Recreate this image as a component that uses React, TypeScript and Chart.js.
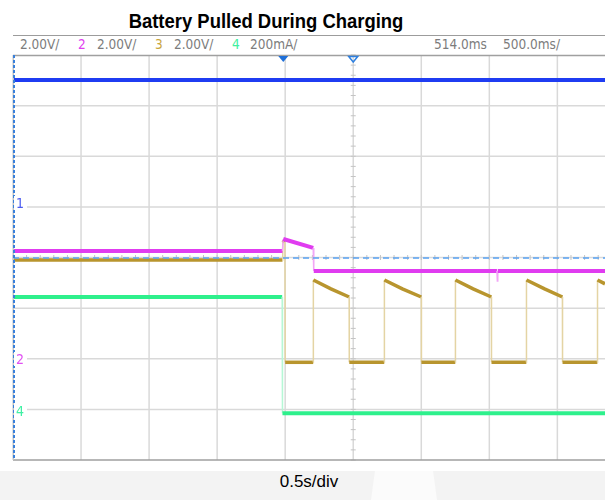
import React, { useEffect, useRef } from "react";
import { Chart, registerables } from "chart.js";

Chart.register(...registerables);

// ---------- text ----------
const TITLE = "Battery Pulled During Charging";
const TIMEBASE_LABEL = "0.5s/div";
const headerTexts = ["2.00V/", "2", "2.00V/", "3", "2.00V/", "4", "200mA/", "514.0ms", "500.0ms/"];
const headerColors = ["#7c7c7c", "#e040f0", "#7c7c7c", "#c9a640", "#7c7c7c", "#3ef0a0", "#7c7c7c", "#7c7c7c", "#7c7c7c"];
const headerLeft = [20, 78, 97, 155, 174, 232, 250, 434, 503];

const channelLabels = ["1", "2", "4"];
const channelLabelColors = ["#4c5cf0", "#e050f2", "#40f0a4"];
const channelLabelTop = [196, 352, 404];

// ---------- timebase (seconds, 0 = trigger) ----------
const timePerDiv = 0.5;
const triggerDelay = 0.514; // time at screen centre
const visibleDivs = 8.7;
const xMin = triggerDelay - 5 * timePerDiv;
const xMax = xMin + visibleDivs * timePerDiv;

// ---------- channel settings (reference level in divisions from centre, units per division) ----------
const ch1Ref = 1.09, ch1Scale = 2; // V/div
const ch2Ref = -2.0, ch2Scale = 2; // V/div
const ch3Ref = -2.07, ch3Scale = 2; // V/div
const ch4Ref = -3.0, ch4Scale = 200; // mA/div

// ---------- data ----------
// CH1: input voltage (V)
const ch1Times = [-1.986, 2.364];
const ch1Volts = [4.83, 4.83];

// CH2: battery node voltage (V)
const ch2Times = [-1.986, -0.006, 0.0, 0.22, 0.224, 1.57, 1.573, 1.576, 2.364];
const ch2Volts = [4.26, 4.26, 4.73, 4.38, 3.47, 3.47, 3.07, 3.47, 3.47];

// CH3: system/charger output voltage (V)
const ch3Times = [
  -1.986, -0.006, -0.004, 0.012, 0.014,
  0.22, 0.221, 0.35, 0.484, 0.485,
  0.742, 0.743, 0.875, 1.014, 1.015,
  1.264, 1.265, 1.395, 1.529, 1.53,
  1.786, 1.787, 1.92, 2.051, 2.052,
  2.308, 2.309, 2.364,
];
const ch3Volts = [
  4.04, 4.04, 4.83, 4.76, 0,
  0, 3.25, 2.9, 2.58, 0,
  0, 3.25, 2.9, 2.58, 0,
  0, 3.25, 2.9, 2.58, 0,
  0, 3.25, 2.9, 2.58, 0,
  0, 3.25, 3.1,
];

// CH4: charge current (mA)
const ch4Times = [-1.986, -0.008, -0.006, 2.364];
const ch4mA = [444, 444, -15, -15];

// Trigger level (on CH3, V)
const trigTimes = [-1.986, 2.364];
const trigVolts = [4.12, 4.12];

const pts = (xs: number[], ys: number[]) => xs.map((x, i) => ({ x, y: ys[i] }));
const axisFor = (ref: number, scale: number) => ({
  type: "linear" as const,
  display: false,
  min: (-4 - ref) * scale,
  max: (4 - ref) * scale,
});

const edgeStyle = (thick: string, thin: string, wThick: number, wThin: number) => {
  const isEdge = (c: any) => Math.abs(c.p1.x - c.p0.x) < 1.5;
  return {
    borderColor: (c: any) => (isEdge(c) ? thin : thick),
    borderWidth: (c: any) => (isEdge(c) ? wThin : wThick),
  };
};

const scopePlugin = {
  id: "scopeScreen",
  beforeDatasetsDraw(chart: any) {
    const { ctx, chartArea: a, scales } = chart;
    const xs = scales.x;
    const yd = scales.yDiv;
    ctx.save();
    // grid
    ctx.strokeStyle = "#d9d9d9";
    ctx.lineWidth = 1.5;
    for (let k = -5; k <= 5; k++) {
      const px = xs.getPixelForValue(triggerDelay + k * timePerDiv);
      if (px < a.left - 1 || px > a.right + 1) continue;
      ctx.beginPath();
      ctx.moveTo(px, a.top);
      ctx.lineTo(px, a.bottom);
      ctx.stroke();
    }
    for (let k = -3; k <= 3; k++) {
      const py = yd.getPixelForValue(k);
      ctx.beginPath();
      ctx.moveTo(a.left, py);
      ctx.lineTo(a.right, py);
      ctx.stroke();
    }
    // centre axis minor ticks
    ctx.strokeStyle = "#c4c4c4";
    ctx.lineWidth = 1;
    const cx = xs.getPixelForValue(triggerDelay);
    const cy = yd.getPixelForValue(0);
    for (let i = -20; i <= 20; i++) {
      const py = yd.getPixelForValue(i / 5);
      ctx.beginPath();
      ctx.moveTo(cx - 2.5, py);
      ctx.lineTo(cx + 2.5, py);
      ctx.stroke();
    }
    for (let i = -30; i <= 30; i++) {
      const px = xs.getPixelForValue(triggerDelay + (i * timePerDiv) / 5);
      if (px < a.left || px > a.right) continue;
      ctx.beginPath();
      ctx.moveTo(px, cy - 2.5);
      ctx.lineTo(px, cy + 2.5);
      ctx.stroke();
    }
    ctx.restore();
  },
  afterDraw(chart: any) {
    const { ctx, chartArea: a, scales } = chart;
    const xs = scales.x;
    ctx.save();
    // top / bottom border
    ctx.strokeStyle = "#a0a0a0";
    ctx.lineWidth = 1.5;
    ctx.beginPath();
    ctx.moveTo(a.left, a.top + 0.5);
    ctx.lineTo(a.right, a.top + 0.5);
    ctx.moveTo(a.left, a.bottom);
    ctx.lineTo(a.right, a.bottom);
    ctx.stroke();
    // left edge: grey + blue dashed
    ctx.strokeStyle = "#c0c0c0";
    ctx.lineWidth = 1;
    ctx.beginPath();
    ctx.moveTo(a.left + 0.5, a.top);
    ctx.lineTo(a.left + 0.5, a.bottom);
    ctx.stroke();
    ctx.strokeStyle = "#3a80da";
    ctx.lineWidth = 2;
    ctx.setLineDash([3, 2]);
    ctx.beginPath();
    ctx.moveTo(a.left + 1, a.top);
    ctx.lineTo(a.left + 1, a.bottom);
    ctx.stroke();
    ctx.setLineDash([]);
    // trigger position marker (filled) and centre marker (hollow)
    const tx = xs.getPixelForValue(0);
    ctx.fillStyle = "#1f6fd8";
    ctx.beginPath();
    ctx.moveTo(tx - 5, a.top + 1);
    ctx.lineTo(tx + 5, a.top + 1);
    ctx.lineTo(tx, a.top + 7);
    ctx.closePath();
    ctx.fill();
    const cx = xs.getPixelForValue(triggerDelay);
    ctx.strokeStyle = "#2f80e0";
    ctx.lineWidth = 1.5;
    ctx.beginPath();
    ctx.moveTo(cx - 4.5, a.top + 1.5);
    ctx.lineTo(cx + 4.5, a.top + 1.5);
    ctx.lineTo(cx, a.top + 7);
    ctx.closePath();
    ctx.stroke();
    ctx.restore();
  },
};

const NARROW = '"Liberation Sans Narrow", "Arial Narrow", "DejaVu Sans Condensed", sans-serif';
const SANS = '"Liberation Sans", Arial, sans-serif';

export default function App() {
  const canvasRef = useRef<HTMLCanvasElement>(null);

  useEffect(() => {
    const canvas = canvasRef.current;
    if (!canvas) return;
    const chart = new Chart(canvas, {
      type: "line",
      data: {
        datasets: [
          {
            label: "Trigger level",
            data: pts(trigTimes, trigVolts),
            yAxisID: "y3",
            borderColor: "#5aa3f2",
            borderWidth: 1.5,
            borderDash: [6, 4],
            pointRadius: 0,
            order: 0,
          },
          {
            label: "CH2",
            data: pts(ch2Times, ch2Volts),
            yAxisID: "y2",
            borderColor: "#e03cf0",
            borderWidth: 4,
            pointRadius: 0,
            segment: edgeStyle("#e03cf0", "#f2a6f6", 4, 1.5),
            order: 1,
          },
          {
            label: "CH3",
            data: pts(ch3Times, ch3Volts),
            yAxisID: "y3",
            borderColor: "#b8952e",
            borderWidth: 3.5,
            pointRadius: 0,
            segment: edgeStyle("#b8952e", "#e4d4a4", 3.5, 1.5),
            order: 2,
          },
          {
            label: "CH4",
            data: pts(ch4Times, ch4mA),
            yAxisID: "y4",
            borderColor: "#2ef08c",
            borderWidth: 4,
            pointRadius: 0,
            segment: edgeStyle("#2ef08c", "#b6f7d6", 4, 1.5),
            order: 3,
          },
          {
            label: "CH1",
            data: pts(ch1Times, ch1Volts),
            yAxisID: "y1",
            borderColor: "#1f3cf2",
            borderWidth: 4,
            pointRadius: 0,
            order: 4,
          },
        ],
      },
      options: {
        animation: false,
        responsive: false,
        devicePixelRatio: 1,
        layout: { padding: { left: 13, top: 55, right: 0, bottom: 10 } },
        elements: { line: { tension: 0 } },
        plugins: {
          legend: { display: false },
          tooltip: { enabled: false },
          title: { display: false },
        },
        scales: {
          x: { type: "linear", display: false, min: xMin, max: xMax },
          yDiv: { type: "linear", display: false, min: -4, max: 4 },
          y1: axisFor(ch1Ref, ch1Scale),
          y2: axisFor(ch2Ref, ch2Scale),
          y3: axisFor(ch3Ref, ch3Scale),
          y4: axisFor(ch4Ref, ch4Scale),
        },
      } as any,
      plugins: [scopePlugin],
    } as any);
    return () => chart.destroy();
  }, []);

  return (
    <div
      style={{
        position: "fixed",
        left: 0,
        top: 0,
        width: 605,
        height: 500,
        background: "#ffffff",
        overflow: "hidden",
      }}
    >
      <div
        style={{
          position: "absolute",
          left: 0,
          top: 11,
          width: 532,
          textAlign: "center",
          fontFamily: SANS,
          fontWeight: "bold",
          fontSize: 20.5,
          lineHeight: 1,
          color: "#000",
          whiteSpace: "nowrap",
          transform: "scaleX(0.9)",
          transformOrigin: "266px 0",
        }}
      >
        {TITLE}
      </div>
      <div style={{ position: "absolute", left: 13, top: 35, width: 592, height: 1, background: "#9c9c9c" }} />
      {headerTexts.map((t, i) => (
        <div
          key={i}
          style={{
            position: "absolute",
            left: headerLeft[i],
            top: 38,
            fontFamily: NARROW,
            fontSize: 13.5,
            lineHeight: 1,
            color: headerColors[i],
            whiteSpace: "nowrap",
          }}
        >
          {t}
        </div>
      ))}
      <canvas
        ref={canvasRef}
        width={605}
        height={470}
        style={{ position: "absolute", left: 0, top: 0, width: 605, height: 470, display: "block" }}
      />
      {channelLabels.map((t, i) => (
        <div
          key={"c" + i}
          style={{
            position: "absolute",
            left: 14,
            top: channelLabelTop[i],
            width: 13,
            paddingLeft: 2,
            boxSizing: "border-box",
            background: "#ffffff",
            fontFamily: NARROW,
            fontSize: 14,
            lineHeight: 1,
            color: channelLabelColors[i],
          }}
        >
          {t}
        </div>
      ))}
      <div style={{ position: "absolute", left: 0, top: 471, width: 605, height: 29, background: "#f3f3f3" }} />
      <div
        style={{
          position: "absolute",
          left: 371,
          top: 471,
          width: 66,
          height: 29,
          background: "#fbfbfb",
          clipPath: "polygon(6% 0, 94% 0, 100% 100%, 0 100%)",
        }}
      />
      <div
        style={{
          position: "absolute",
          left: 209,
          top: 473,
          width: 200,
          textAlign: "center",
          fontFamily: SANS,
          fontSize: 17,
          lineHeight: 1,
          color: "#000",
          whiteSpace: "nowrap",
        }}
      >
        {TIMEBASE_LABEL}
      </div>
    </div>
  );
}
